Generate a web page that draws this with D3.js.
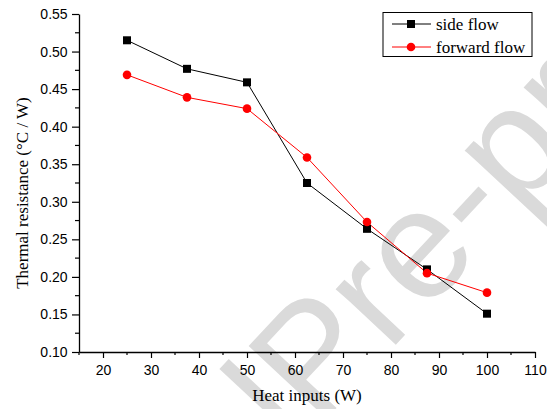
<!DOCTYPE html>
<html><head><meta charset="utf-8">
<script src="https://cdn.jsdelivr.net/npm/d3@7"></script>
<style>html,body{margin:0;padding:0;background:#fff}svg{display:block}</style>
</head><body>
<script>
const heatInputs = [25, 37.5, 50, 62.5, 75, 87.5, 100];
const sideFlow = [0.515, 0.477, 0.459, 0.325, 0.264, 0.210, 0.151];
const forwardFlow = [0.469, 0.439, 0.424, 0.359, 0.273, 0.205, 0.179];
const xTicks = [20, 30, 40, 50, 60, 70, 80, 90, 100, 110];
const yTicks = [0.10, 0.15, 0.20, 0.25, 0.30, 0.35, 0.40, 0.45, 0.50, 0.55];
const seriesNames = ["side flow", "forward flow"];

const W = 547, H = 409;
const svg = d3.select("body").append("svg").attr("width", W).attr("height", H);

// watermark
const wm = svg.append("g").attr("transform", "translate(318,428) rotate(-47)")
  .attr("font-family", "Liberation Sans, Arial, sans-serif")
  .attr("font-size", 155).attr("fill", "#dadada");
wm.append("text").attr("text-anchor", "start").text("Pre-proof");
wm.append("text").attr("text-anchor", "end").text("Journal ");

const x = d3.scaleLinear().domain([15, 110]).range([79, 535]);
const y = d3.scaleLinear().domain([0.10, 0.55]).range([352, 14]);

// axes
const xMinor = d3.range(15, 111, 5).filter(v => v % 10 !== 0);
const yMinor = d3.range(0.125, 0.55, 0.025).filter((v, i) => i % 2 === 0);

const gx = svg.append("g").attr("transform", `translate(0,${y(0.10)})`);
gx.call(d3.axisBottom(x).tickValues(xTicks).tickSize(6).tickSizeOuter(0).tickFormat(d3.format("d")));
gx.selectAll("text").attr("font-family", "Liberation Sans, Arial, sans-serif").attr("font-size", 14).attr("fill", "#000").attr("dy", "1.0em");
gx.select(".domain").attr("stroke", "#000").attr("stroke-width", 1.3);
gx.selectAll(".tick line").attr("stroke", "#000").attr("stroke-width", 1.2);
gx.selectAll(".minor").data(xMinor).enter().append("line")
  .attr("x1", d => x(d)).attr("x2", d => x(d)).attr("y1", 0).attr("y2", 3)
  .attr("stroke", "#000").attr("stroke-width", 1.2);

const gy = svg.append("g").attr("transform", `translate(${x(15)},0)`);
gy.call(d3.axisLeft(y).tickValues(yTicks).tickSize(7).tickSizeOuter(0).tickFormat(d3.format(".2f")));
gy.selectAll("text").attr("font-family", "Liberation Sans, Arial, sans-serif").attr("font-size", 14).attr("fill", "#000").attr("dx", "-0.1em");
gy.select(".domain").attr("stroke", "#000").attr("stroke-width", 1.3);
gy.selectAll(".tick line").attr("stroke", "#000").attr("stroke-width", 1.2);
gy.selectAll(".minor").data(yMinor).enter().append("line")
  .attr("x1", 0).attr("x2", -4).attr("y1", d => y(d)).attr("y2", d => y(d))
  .attr("stroke", "#000").attr("stroke-width", 1.2);

// titles
svg.append("text").attr("x", 307).attr("y", 401).attr("text-anchor", "middle")
  .attr("font-family", "Liberation Serif, Times New Roman, serif").attr("font-size", 17)
  .text("Heat inputs (W)");
svg.append("text").attr("transform", "translate(28,193) rotate(-90)").attr("text-anchor", "middle")
  .attr("font-family", "Liberation Serif, Times New Roman, serif").attr("font-size", 17)
  .text("Thermal resistance (°C / W)");

// lines
const line = d3.line().x(d => x(d[0])).y(d => y(d[1]));
const sideData = heatInputs.map((h, i) => [h, sideFlow[i]]);
const fwdData = heatInputs.map((h, i) => [h, forwardFlow[i]]);

svg.append("path").datum(sideData).attr("d", line).attr("fill", "none").attr("stroke", "#000").attr("stroke-width", 1);
svg.append("path").datum(fwdData).attr("d", line).attr("fill", "none").attr("stroke", "#ff0000").attr("stroke-width", 1);

svg.selectAll(".sq").data(sideData).enter().append("rect")
  .attr("x", d => x(d[0]) - 4).attr("y", d => y(d[1]) - 4).attr("width", 8).attr("height", 8).attr("fill", "#000");
svg.selectAll(".ci").data(fwdData).enter().append("circle")
  .attr("cx", d => x(d[0])).attr("cy", d => y(d[1])).attr("r", 4.3).attr("fill", "#ff0000");

// legend
const lg = svg.append("g");
lg.append("rect").attr("x", 383).attr("y", 12.5).attr("width", 149).attr("height", 44)
  .attr("fill", "#fff").attr("stroke", "#000").attr("stroke-width", 1);
const rows = [24, 47];
lg.append("line").attr("x1", 392).attr("x2", 431).attr("y1", rows[0]).attr("y2", rows[0]).attr("stroke", "#000");
lg.append("rect").attr("x", 411 - 4).attr("y", rows[0] - 4).attr("width", 8).attr("height", 8).attr("fill", "#000");
lg.append("line").attr("x1", 392).attr("x2", 431).attr("y1", rows[1]).attr("y2", rows[1]).attr("stroke", "#ff0000");
lg.append("circle").attr("cx", 411).attr("cy", rows[1]).attr("r", 4.3).attr("fill", "#ff0000");
lg.selectAll(".lt").data(seriesNames).enter().append("text")
  .attr("x", 436).attr("y", (d, i) => rows[i] + 5.5)
  .attr("font-family", "Liberation Serif, Times New Roman, serif").attr("font-size", 17)
  .text(d => d);
</script>
</body></html>
